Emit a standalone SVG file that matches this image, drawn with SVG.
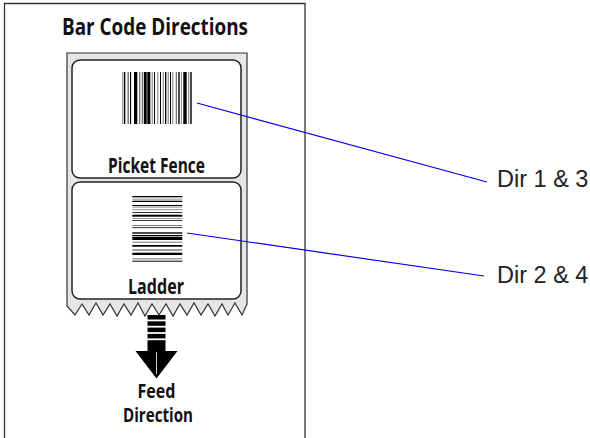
<svg xmlns="http://www.w3.org/2000/svg" width="590" height="438" viewBox="0 0 590 438">
<style>
.hd{font-family:"Liberation Sans Narrow","Open Sans","Liberation Sans",sans-serif;font-weight:bold;fill:#111;}
.lbl{font-family:"Liberation Sans",Arial,sans-serif;font-size:23.5px;fill:#222;}
.card{fill:#fff;stroke:#222;stroke-width:1.5;}
.conn{stroke:#0000ee;stroke-width:1.2;fill:none;}
.k{fill:#000;}
.g{fill:#777;}
</style>
<rect width="590" height="438" fill="#fff"/>
<g id="frame">
<path d="M4.5,440 V3.5 H305 V440" fill="none" stroke="#333" stroke-width="1.3"/>
</g>
<g id="title">
<text class="hd" x="155" y="35" font-size="24" text-anchor="middle" textLength="186" lengthAdjust="spacingAndGlyphs">Bar Code Directions</text>
</g>
<g id="stock">
<path d="M67,53 H247 V304 L242,315 L235,303 L228,315 L222,304 L215,316 L208,304 L201,315 L194,303 L187,315 L180,304 L173,316 L166,304 L159,315 L152,304 L145,316 L138,303 L131,315 L124,304 L117,316 L110,304 L103,315 L96,303 L89,315 L82,304 L75,315 L67,306 Z" fill="#e6e6e6" stroke="#333" stroke-width="1.2" stroke-linejoin="miter"/>
</g>
<g id="label-picket">
<rect class="card" x="72" y="60" width="169" height="118" rx="8"/>
<g>
<rect class="g" x="122.3" y="72" width="1" height="52"/>
<rect class="k" x="124" y="72" width="1.3" height="52"/>
<rect class="k" x="127.7" y="72" width="0.8" height="52"/>
<rect class="k" x="130" y="72" width="1.1" height="52"/>
<rect class="k" x="134" y="72" width="3.3" height="52"/>
<rect class="g" x="139" y="72" width="1.3" height="52"/>
<rect class="g" x="141.7" y="72" width="1.6" height="52"/>
<rect class="k" x="144" y="72" width="2.7" height="52"/>
<rect class="k" x="147.3" y="72" width="3" height="52"/>
<rect class="g" x="151.7" y="72" width="1" height="52"/>
<rect class="k" x="154" y="72" width="1" height="52"/>
<rect class="g" x="157.3" y="72" width="1" height="52"/>
<rect class="k" x="160" y="72" width="1" height="52"/>
<rect class="g" x="162.7" y="72" width="1" height="52"/>
<rect class="k" x="165" y="72" width="1.3" height="52"/>
<rect class="g" x="167.7" y="72" width="1" height="52"/>
<rect class="k" x="170" y="72" width="1" height="52"/>
<rect class="g" x="172.3" y="72" width="1" height="52"/>
<rect class="g" x="175.7" y="72" width="1.3" height="52"/>
<rect class="k" x="178.3" y="72" width="1.4" height="52"/>
<rect class="g" x="181" y="72" width="0.8" height="52"/>
<rect class="k" x="183.3" y="72" width="3.4" height="52"/>
<rect class="g" x="188.3" y="72" width="1" height="52"/>
<rect class="k" x="190.3" y="72" width="1.4" height="52"/>
</g>
<text class="hd" x="156.5" y="173" font-size="21" text-anchor="middle" textLength="97" lengthAdjust="spacingAndGlyphs">Picket Fence</text>
</g>
<g id="label-ladder">
<rect class="card" x="72" y="182" width="169" height="117" rx="8"/>
<g>
<rect class="k" x="132.3" y="196" width="50" height="1.3"/>
<rect class="g" x="132.3" y="198.7" width="50" height="0.8"/>
<rect class="k" x="132.3" y="200.7" width="50" height="1.3"/>
<rect class="k" x="132.3" y="205" width="50" height="1"/>
<rect class="g" x="132.3" y="206.7" width="50" height="0.8"/>
<rect class="g" x="132.3" y="209.3" width="50" height="0.8"/>
<rect class="k" x="132.3" y="212" width="50" height="0.8"/>
<rect class="k" x="132.3" y="214.7" width="50" height="2"/>
<rect class="g" x="132.3" y="218" width="50" height="0.8"/>
<rect class="k" x="132.3" y="220" width="50" height="0.8"/>
<rect class="g" x="132.3" y="225" width="50" height="1"/>
<rect class="k" x="132.3" y="227.3" width="50" height="0.8"/>
<rect class="k" x="132.3" y="232.3" width="50" height="1.4"/>
<rect class="k" x="132.3" y="235" width="50" height="1"/>
<rect class="k" x="132.3" y="236.7" width="50" height="3.3"/>
<rect class="g" x="132.3" y="241.7" width="50" height="1"/>
<rect class="k" x="132.3" y="245" width="50" height="1.7"/>
<rect class="g" x="132.3" y="249.3" width="50" height="1.4"/>
<rect class="k" x="132.3" y="252.7" width="50" height="2.3"/>
<rect class="g" x="132.3" y="258.3" width="50" height="1"/>
<rect class="k" x="132.3" y="260.7" width="50" height="1"/>
</g>
<text class="hd" x="156" y="294" font-size="22" text-anchor="middle" textLength="56" lengthAdjust="spacingAndGlyphs">Ladder</text>
</g>
<g id="feed-direction">
<rect class="k" x="147.5" y="315" width="18" height="4.5"/>
<rect class="k" x="147.5" y="321.3" width="18" height="4.5"/>
<rect class="k" x="147.5" y="327.6" width="18" height="4.5"/>
<rect class="k" x="147.5" y="333.9" width="18" height="4.5"/>
<rect class="k" x="147.5" y="340.2" width="18" height="11"/>
<polygon class="k" points="135.5,351 177.5,351 156.5,378.5"/>
<line x1="156.5" y1="352" x2="156.5" y2="374" stroke="#fff" stroke-width="0.8"/>
<text class="hd" x="156.5" y="398" font-size="19" text-anchor="middle" textLength="38" lengthAdjust="spacingAndGlyphs">Feed</text>
<text class="hd" x="158" y="422" font-size="19" text-anchor="middle" textLength="70" lengthAdjust="spacingAndGlyphs">Direction</text>
</g>
<g id="dir13">
<text class="lbl" x="497" y="187">Dir 1 &amp; 3</text>
</g>
<g id="dir24">
<text class="lbl" x="497" y="283">Dir 2 &amp; 4</text>
</g>
<g id="connectors">
<line class="conn" x1="197" y1="103" x2="487" y2="182"/>
<line class="conn" x1="187" y1="233" x2="484" y2="276"/>
</g>
</svg>
